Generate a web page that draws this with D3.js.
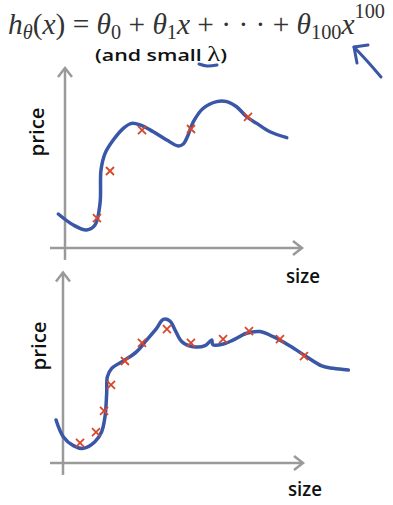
<!DOCTYPE html>
<html>
<head>
<meta charset="utf-8">
<script src="https://cdn.jsdelivr.net/npm/d3@7"></script>
<style>
  body { margin: 0; background: #fff; }
  svg { display: block; }
</style>
</head>
<body>
<div id="my_dataviz"></div>
<script>
// data, in chart units (size 0-100, price 0-100)
var topPoints = [[13.3, 17.6], [18.75, 45.3], [32.1, 69.4], [52.5, 70], [76.25, 77.1]];
var topCurve = [[-2.8, 20], [3.5, 13.5], [9, 10.6], [12.5, 13.5], [14.6, 26.3], [15, 45.9],
    [16.7, 55.7], [20.1, 63.5], [24.3, 70.4], [27.8, 73.3], [31.25, 72.4], [36.8, 68.4],
    [42.4, 63.5], [47.2, 60], [49.3, 61.2], [51, 65.5], [53.5, 74.3], [57.6, 82.2],
    [63.2, 86.1], [67.4, 86.1], [71.5, 83.1], [75.7, 77.2], [79.9, 73.3], [85.4, 68.4], [92.4, 64.9]];

var bottomPoints = [[7.1, 11.8], [13.75, 18.2], [17.1, 30.6], [20, 45.9], [25.8, 60], [32.9, 70.6],
    [43.3, 78.8], [53.3, 70.6], [66.7, 72.9], [77.5, 77.6], [90.4, 72.9], [100.4, 62.9]];
var bottomCurve = [[-2.9, 25.3], [0.1, 15.5], [4.3, 10.2], [8.5, 8.6], [13.3, 12.5], [16.1, 18.4],
    [17.5, 27.2], [18.2, 41], [18.5, 50.8], [20.3, 55.7], [25.8, 60.6], [30.7, 65.5], [34.9, 72.4],
    [39, 79.2], [41.8, 84.5], [44.6, 83.5], [46.7, 78.2], [49.5, 71.4], [54.3, 68.4], [59.2, 69],
    [62, 72.4], [62.4, 69.6], [66.8, 70], [71, 72.4], [76.5, 76.3], [82.1, 77.3], [87.6, 74.3],
    [94.6, 68.8], [101.5, 62.5], [107.8, 57.1], [112.6, 55.7], [118.9, 54.7]];

// axis extents [from, to] in chart units
var topAxisX = [-6.25, 98.75], topAxisY = [-7, 105.9];
var bottomAxisX = [-5.4, 100], bottomAxisY = [-7, 112];

var xLabel = "size", yLabel = "price";

var W = 393, H = 505;
var svg = d3.select("#my_dataviz").append("svg")
    .attr("width", W).attr("height", H);

var blue = "#3a56a6", red = "#d9472b", grey = "#9a9a9a";
var sans = "'Open Sans', Lato, sans-serif";

// formula at the top
var formula = svg.append("text")
    .attr("x", 8).attr("y", 34)
    .style("font-family", "'Liberation Serif', 'DejaVu Serif', serif")
    .style("font-size", "29px")
    .style("fill", "#333");
var parts = [
    { t: "h", it: true },
    { t: "θ", it: true, sub: true },
    { t: "(", back: true },
    { t: "x", it: true },
    { t: ") = " },
    { t: "θ", it: true },
    { t: "0", sub: true },
    { t: " + ", back: true },
    { t: "θ", it: true },
    { t: "1", sub: true },
    { t: "x", it: true, back: true },
    { t: " + · · · + " },
    { t: "θ", it: true },
    { t: "100", sub: true },
    { t: "x", it: true, back: true },
    { t: "100", sup: true }
];
parts.forEach(function (p) {
    var ts = formula.append("tspan").text(p.t);
    if (p.it) ts.style("font-style", "italic");
    if (p.sub) ts.attr("dy", 5).style("font-size", "20px");
    if (p.back) ts.attr("dy", -5);
    if (p.sup) ts.attr("dy", -16).style("font-size", "20px");
});
var fw = formula.node().getComputedTextLength();
formula.attr("transform", "translate(8,0) scale(" + (377 / fw) + ",1) translate(-8,0)");

// "(and small λ)"
var sub = svg.append("text")
    .attr("x", 95).attr("y", 61)
    .style("font-family", sans)
    .style("font-weight", 600)
    .style("font-size", "16px")
    .style("fill", "#111");
sub.append("tspan").text("(and small ");
sub.append("tspan").text("λ")
    .style("font-family", "'Liberation Serif', serif")
    .style("font-weight", 400)
    .style("font-size", "20px");
sub.append("tspan").text(")");
sub.attr("textLength", 132).attr("lengthAdjust", "spacingAndGlyphs");

// handwritten underline and arrow
var hand = d3.line().curve(d3.curveCatmullRom);
svg.append("path")
    .attr("d", hand([[199, 64], [207, 66], [217, 65]]))
    .attr("stroke", blue).attr("stroke-width", 3)
    .attr("fill", "none").attr("stroke-linecap", "round");
svg.append("path")
    .attr("d", hand([[381, 77], [368, 62], [354, 47]]))
    .attr("stroke", blue).attr("stroke-width", 3)
    .attr("fill", "none").attr("stroke-linecap", "round");
svg.append("path")
    .attr("d", "M357,63 L354,47 L368,45")
    .attr("stroke", blue).attr("stroke-width", 3)
    .attr("fill", "none").attr("stroke-linecap", "round").attr("stroke-linejoin", "round");

function drawChart(ox, oy, points, curve, axX, axY, sizeLabelPos, priceLabelPos) {
    var x = d3.scaleLinear().domain([0, 100]).range([ox, ox + 240]);
    var y = d3.scaleLinear().domain([0, 100]).range([oy, oy - 170]);
    var g = svg.append("g");

    // axes
    g.append("line")
        .attr("x1", x(axX[0])).attr("x2", x(axX[1]))
        .attr("y1", y(0)).attr("y2", y(0))
        .attr("stroke", grey).attr("stroke-width", 2.5);
    g.append("line")
        .attr("x1", x(0)).attr("x2", x(0))
        .attr("y1", y(axY[0])).attr("y2", y(axY[1]))
        .attr("stroke", grey).attr("stroke-width", 2.5);
    // arrow heads
    var tx = x(axX[1]), ty = y(0);
    g.append("path")
        .attr("d", "M" + (tx - 9) + "," + (ty - 7) + " L" + tx + "," + ty + " L" + (tx - 9) + "," + (ty + 7))
        .attr("stroke", grey).attr("stroke-width", 2.5).attr("fill", "none");
    var ux = x(0), uy = y(axY[1]);
    g.append("path")
        .attr("d", "M" + (ux - 7) + "," + (uy + 9) + " L" + ux + "," + uy + " L" + (ux + 7) + "," + (uy + 9))
        .attr("stroke", grey).attr("stroke-width", 2.5).attr("fill", "none");

    // fitted curve
    var line = d3.line()
        .x(function (d) { return x(d[0]); })
        .y(function (d) { return y(d[1]); })
        .curve(d3.curveCatmullRom);
    g.append("path")
        .attr("d", line(curve))
        .attr("fill", "none")
        .attr("stroke", blue)
        .attr("stroke-width", 3.5)
        .attr("stroke-linecap", "round")
        .attr("stroke-linejoin", "round");

    // training examples
    var s = 4;
    g.selectAll("myCross")
        .data(points)
        .enter()
        .append("path")
        .attr("d", function (d) {
            var cx = x(d[0]), cy = y(d[1]);
            return "M" + (cx - s) + "," + (cy - s) + "L" + (cx + s) + "," + (cy + s) +
                "M" + (cx - s) + "," + (cy + s) + "L" + (cx + s) + "," + (cy - s);
        })
        .attr("stroke", red)
        .attr("stroke-width", 1.8);

    // labels
    g.append("text")
        .attr("x", sizeLabelPos[0]).attr("y", sizeLabelPos[1])
        .text(xLabel)
        .attr("textLength", 34).attr("lengthAdjust", "spacingAndGlyphs")
        .style("font-family", sans)
        .style("font-weight", 600)
        .style("font-size", "19px")
        .style("fill", "#111");
    g.append("text")
        .attr("transform", "translate(" + priceLabelPos[0] + "," + priceLabelPos[1] + ") rotate(-90)")
        .attr("text-anchor", "middle")
        .text(yLabel)
        .attr("textLength", 49).attr("lengthAdjust", "spacingAndGlyphs")
        .style("font-family", sans)
        .style("font-weight", 600)
        .style("font-size", "19px")
        .style("fill", "#111");
}

drawChart(65, 248, topPoints, topCurve, topAxisX, topAxisY, [286, 283], [44, 132]);
drawChart(63, 463, bottomPoints, bottomCurve, bottomAxisX, bottomAxisY, [288, 496], [46, 346]);
</script>
</body>
</html>
